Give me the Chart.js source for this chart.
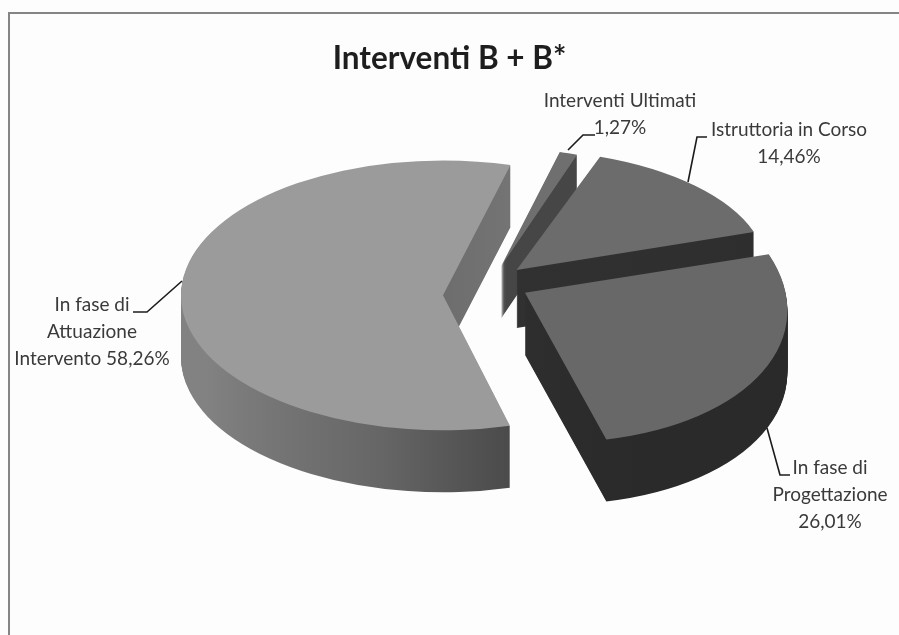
<!DOCTYPE html>
<html>
<head>
<meta charset="utf-8">
<style>html,body{margin:0;padding:0;background:#fdfdfd}canvas{display:block}</style>
<script src="https://cdn.jsdelivr.net/npm/chart.js@4"></script>
</head>
<body>
<canvas id="c" width="899" height="635"></canvas>
<script>
const titleText = 'Interventi B + B*';
const categories = ['In fase di Attuazione Intervento', 'Interventi Ultimati', 'Istruttoria in Corso', 'In fase di Progettazione'];
const values = [58.26, 1.27, 14.46, 26.01];
const labelLines = [['In fase di', 'Attuazione', 'Intervento 58,26%'], ['Interventi Ultimati', '1,27%'], ['Istruttoria in Corso', '14,46%'], ['In fase di', 'Progettazione', '26,01%']];

const topColors = ['#9b9b9b', '#6f6f6f', '#6c6c6c', '#686868'];
const sideStops = [['#828282', '#666666', '#434343'], ['#4a4a4a', '#444444', '#3c3c3c'], ['#333333', '#303030', '#2e2e2e'], ['#303030', '#2d2d2d', '#2a2a2a']];
const centerShift = 38.5;
const explode = [45, 44, 40, 42];
const nudgeY = [5, -2, -7, -9];
const depth = [62, 52, 58, 62];
const squash = [0.515, 0.52, 0.48, 0.57];
const reach = [1, 0.87, 0.955, 1.0];
const shear = [0, 0, 0, 0.1];
const shearY = [0, 0, 0, 0.035];
const labelPos = [[92, 305], [620, 101], [789, 130], [830, 468]];
const leaders = [
  [[182, 281], [147, 312], [133, 312]],
  [[568, 150], [583, 135], [595, 135]],
  [[688, 182], [697, 137], [707, 137]],
  [[767, 428], [780, 475], [790, 475]]
];

const pie3d = {
  id: 'pie3d',
  beforeDraw(chart) {
    const ctx = chart.ctx;
    ctx.save();
    ctx.fillStyle = '#fdfdfd';
    ctx.fillRect(0, 0, 899, 635);
    ctx.strokeStyle = '#858585';
    ctx.lineWidth = 2;
    ctx.beginPath();
    ctx.moveTo(9, 635);
    ctx.lineTo(9, 13);
    ctx.lineTo(899, 13);
    ctx.stroke();
    ctx.restore();
  },
  beforeDatasetsDraw(chart) {
    const ctx = chart.ctx;
    chart.getDatasetMeta(0).data.forEach((arc, i) => {
      const mid = (arc.startAngle + arc.endAngle) / 2;
      const k = squash[i];
      const r = reach[i];
      const ox = Math.cos(mid) * explode[i] + centerShift;
      const oy = Math.sin(mid) * explode[i] * k + nudgeY[i];
      const place = (dy) => {
        ctx.translate(arc.x + ox, arc.y + oy + dy);
        ctx.transform(r, shearY[i] * r, shear[i] * k * r, k * r, 0, 0);
        ctx.translate(-arc.x, -arc.y);
      };
      const base = arc.options;
      const grad = ctx.createLinearGradient(arc.x - 260, arc.y + 157, arc.x + 71, arc.y + 320);
      grad.addColorStop(0, sideStops[i][0]);
      grad.addColorStop(0.6, sideStops[i][1]);
      grad.addColorStop(1, sideStops[i][2]);
      arc.options = Object.assign({}, base, { backgroundColor: grad });
      for (let d = depth[i]; d >= 1; d--) {
        ctx.save();
        place(d);
        arc.draw(ctx);
        ctx.restore();
      }
      arc.options = base;
      ctx.save();
      place(0);
      arc.draw(ctx);
      ctx.restore();
    });
    return false;
  },
  afterDraw(chart) {
    const ctx = chart.ctx;
    ctx.save();
    ctx.strokeStyle = '#1c1c1c';
    ctx.lineWidth = 1.6;
    leaders.forEach(pts => {
      ctx.beginPath();
      pts.forEach((p, j) => j ? ctx.lineTo(p[0], p[1]) : ctx.moveTo(p[0], p[1]));
      ctx.stroke();
    });
    ctx.fillStyle = '#3a3a3a';
    ctx.font = '19px Lato';
    ctx.textAlign = 'center';
    ctx.textBaseline = 'middle';
    labelLines.forEach((lines, i) => {
      lines.forEach((t, j) => ctx.fillText(t, labelPos[i][0], labelPos[i][1] + j * 27));
    });
    ctx.restore();
  }
};

new Chart(document.getElementById('c'), {
  type: 'pie',
  data: {
    labels: categories,
    datasets: [{ data: values, backgroundColor: topColors, borderWidth: 0 }]
  },
  options: {
    responsive: false,
    animation: false,
    rotation: 165.2,
    radius: 262,
    layout: { padding: { left: 0, right: 0, top: 0, bottom: 139 } },
    plugins: {
      legend: { display: false },
      tooltip: { enabled: false },
      title: {
        display: true,
        text: titleText,
        color: '#1e1e1e',
        font: { family: 'Lato', size: 31.5, weight: 'bold', lineHeight: 1.2 },
        padding: { top: 40, bottom: 7 }
      }
    }
  },
  plugins: [pie3d]
});
</script>
</body>
</html>
